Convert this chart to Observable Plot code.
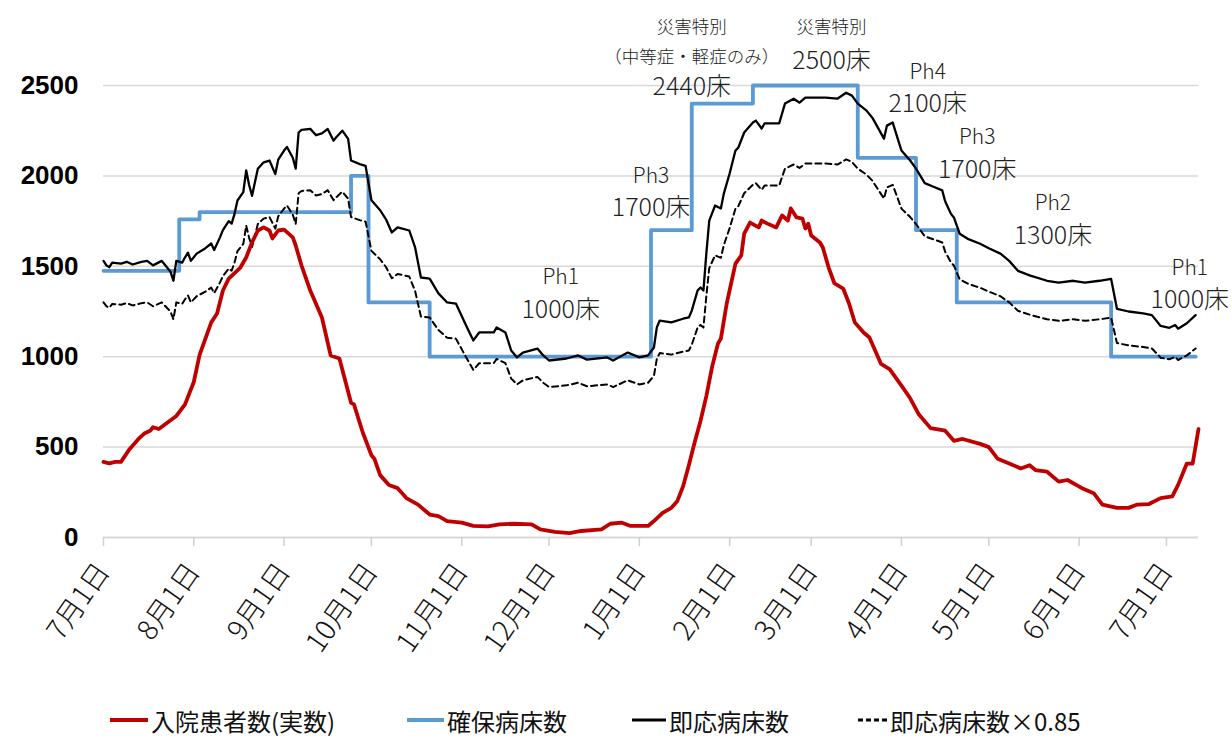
<!DOCTYPE html>
<html lang="ja">
<head>
<meta charset="utf-8">
<script src="https://cdn.jsdelivr.net/npm/d3@7"></script>
<script src="https://cdn.jsdelivr.net/npm/@observablehq/plot@0.6"></script>
<style>
  html, body { margin: 0; padding: 0; background: #fff; }
  #wrap { position: relative; width: 1232px; height: 740px; overflow: hidden; }
  #legend { position: absolute; left: 0; top: 697px; width: 1232px; height: 46px;
            font-family: "Noto Sans CJK JP", "Noto Sans", sans-serif; font-size: 24px; font-weight: 400; color: #111; }
  .item { position: absolute; top: 0; height: 46px; display: flex; align-items: center; white-space: nowrap; }
  .item svg { margin-right: 3px; }
</style>
</head>
<body>
<div id="wrap"><div id="chart"></div><div id="legend"></div></div>
<script>
// ---------- data ----------
const xDomain = ["2021-07-01", "2022-07-12"];
const xTicks = ["2021-07-01","2021-08-01","2021-09-01","2021-10-01","2021-11-01","2021-12-01",
                "2022-01-01","2022-02-01","2022-03-01","2022-04-01","2022-05-01","2022-06-01","2022-07-01"];
const xTickLabels = ["7月1日","8月1日","9月1日","10月1日","11月1日","12月1日",
                     "1月1日","2月1日","3月1日","4月1日","5月1日","6月1日","7月1日"];
const yTicks = [0, 500, 1000, 1500, 2000, 2500];

// 入院患者数(実数)
const patients = [
 ["2021-07-01",418],["2021-07-03",410],["2021-07-05",418],["2021-07-07",418],["2021-07-10",490],
 ["2021-07-13",545],["2021-07-15",575],["2021-07-17",590],["2021-07-18",610],["2021-07-20",600],
 ["2021-07-23",636],["2021-07-26",672],["2021-07-29",736],["2021-08-01",860],["2021-08-03",1010],
 ["2021-08-07",1190],["2021-08-09",1239],["2021-08-11",1366],["2021-08-13",1432],["2021-08-17",1493],
 ["2021-08-19",1549],["2021-08-21",1632],["2021-08-23",1698],["2021-08-25",1715],["2021-08-27",1698],
 ["2021-08-28",1654],["2021-08-30",1698],["2021-09-01",1703],["2021-09-04",1660],["2021-09-05",1615],
 ["2021-09-07",1504],["2021-09-10",1366],["2021-09-14",1217],["2021-09-17",1007],["2021-09-20",990],
 ["2021-09-22",868],["2021-09-24",745],["2021-09-25",736],["2021-09-28",582],["2021-10-01",455],
 ["2021-10-02",436],["2021-10-04",345],["2021-10-07",290],["2021-10-10",273],["2021-10-13",218],
 ["2021-10-17",182],["2021-10-21",127],["2021-10-24",118],["2021-10-27",91],["2021-11-01",82],
 ["2021-11-05",64],["2021-11-10",62],["2021-11-14",73],["2021-11-19",76],["2021-11-25",73],
 ["2021-11-28",45],["2021-12-03",31],["2021-12-08",24],["2021-12-12",36],["2021-12-19",45],
 ["2021-12-22",76],["2021-12-26",82],["2021-12-29",64],["2022-01-04",64],["2022-01-06",91],
 ["2022-01-09",136],["2022-01-12",164],["2022-01-14",200],["2022-01-16",282],["2022-01-18",400],
 ["2022-01-20",527],["2022-01-22",645],["2022-01-24",782],["2022-01-26",945],["2022-01-28",1073],
 ["2022-01-29",1100],["2022-01-31",1294],["2022-02-03",1515],["2022-02-05",1560],["2022-02-06",1681],
 ["2022-02-08",1742],["2022-02-11",1715],["2022-02-12",1753],["2022-02-14",1736],["2022-02-17",1715],
 ["2022-02-19",1781],["2022-02-21",1753],["2022-02-22",1820],["2022-02-24",1770],["2022-02-26",1764],
 ["2022-02-27",1709],["2022-02-28",1736],["2022-03-01",1670],["2022-03-04",1632],["2022-03-05",1604],
 ["2022-03-07",1493],["2022-03-09",1405],["2022-03-12",1377],["2022-03-14",1294],["2022-03-16",1189],
 ["2022-03-19",1134],["2022-03-21",1106],["2022-03-25",960],["2022-03-28",930],["2022-04-01",840],
 ["2022-04-04",770],["2022-04-07",680],["2022-04-11",605],["2022-04-16",591],["2022-04-19",535],
 ["2022-04-22",545],["2022-04-28",518],["2022-05-01",500],["2022-05-04",436],["2022-05-08",409],
 ["2022-05-12",382],["2022-05-15",400],["2022-05-17",373],["2022-05-21",364],["2022-05-25",309],
 ["2022-05-28",318],["2022-06-02",273],["2022-06-06",245],["2022-06-09",182],["2022-06-14",164],
 ["2022-06-18",164],["2022-06-21",182],["2022-06-25",185],["2022-06-29",218],["2022-07-03",227],
 ["2022-07-05",291],["2022-07-08",409],["2022-07-10",409],["2022-07-12",600]
];

// 確保病床数 (step changes)
const securedBeds = [
 ["2021-07-01",1475],["2021-07-27",1760],["2021-08-03",1800],["2021-09-24",2000],["2021-09-30",1300],
 ["2021-10-21",1000],["2022-01-05",1700],["2022-01-19",2400],["2022-02-09",2500],["2022-03-17",2100],
 ["2022-04-06",1700],["2022-04-20",1300],["2022-06-12",1000],["2022-07-11",1000]
];

// 即応病床数
const readyBeds = [
 ["2021-07-01",1530],["2021-07-02",1505],["2021-07-03",1495],["2021-07-04",1520],["2021-07-07",1515],
 ["2021-07-09",1525],["2021-07-11",1510],["2021-07-14",1525],["2021-07-16",1530],["2021-07-18",1505],
 ["2021-07-21",1530],["2021-07-22",1510],["2021-07-24",1470],["2021-07-25",1420],["2021-07-26",1530],
 ["2021-07-28",1520],["2021-07-29",1550],["2021-07-30",1575],["2021-07-31",1530],["2021-08-02",1570],
 ["2021-08-05",1600],["2021-08-07",1626],["2021-08-08",1590],["2021-08-10",1660],["2021-08-11",1700],
 ["2021-08-13",1750],["2021-08-14",1736],["2021-08-15",1790],["2021-08-16",1864],["2021-08-18",1910],
 ["2021-08-19",2030],["2021-08-20",1950],["2021-08-21",1890],["2021-08-23",2040],["2021-08-25",2075],
 ["2021-08-27",2085],["2021-08-29",2010],["2021-08-30",2090],["2021-09-01",2140],["2021-09-02",2160],
 ["2021-09-04",2100],["2021-09-05",2040],["2021-09-06",2240],["2021-09-07",2255],["2021-09-10",2260],
 ["2021-09-12",2225],["2021-09-14",2235],["2021-09-16",2260],["2021-09-18",2195],["2021-09-19",2215],
 ["2021-09-21",2250],["2021-09-23",2205],["2021-09-24",2085],["2021-09-27",2065],["2021-09-29",2055],
 ["2021-10-01",1865],["2021-10-04",1810],["2021-10-06",1760],["2021-10-08",1687],["2021-10-10",1715],
 ["2021-10-14",1698],["2021-10-16",1604],["2021-10-18",1438],["2021-10-21",1432],["2021-10-24",1350],
 ["2021-10-27",1300],["2021-10-30",1294],["2021-11-03",1156],["2021-11-05",1090],["2021-11-07",1134],
 ["2021-11-12",1134],["2021-11-13",1162],["2021-11-16",1134],["2021-11-18",1034],["2021-11-20",996],
 ["2021-11-22",1023],["2021-11-27",1045],["2021-11-29",1007],["2021-12-01",979],["2021-12-07",990],
 ["2021-12-11",1007],["2021-12-14",984],["2021-12-21",996],["2021-12-23",979],["2021-12-28",1023],
 ["2022-01-01",996],["2022-01-04",1007],["2022-01-06",1051],["2022-01-07",1162],["2022-01-08",1200],
 ["2022-01-12",1190],["2022-01-16",1210],["2022-01-18",1217],["2022-01-19",1255],["2022-01-21",1366],
 ["2022-01-22",1383],["2022-01-23",1366],["2022-01-24",1570],["2022-01-25",1753],["2022-01-27",1836],
 ["2022-01-29",1820],["2022-01-30",1902],["2022-02-01",2013],["2022-02-03",2140],["2022-02-04",2157],
 ["2022-02-06",2240],["2022-02-09",2295],["2022-02-10",2306],["2022-02-12",2262],["2022-02-13",2290],
 ["2022-02-18",2290],["2022-02-20",2400],["2022-02-23",2427],["2022-02-25",2405],["2022-02-27",2433],
 ["2022-03-06",2433],["2022-03-10",2427],["2022-03-13",2460],["2022-03-15",2444],["2022-03-17",2400],
 ["2022-03-20",2361],["2022-03-22",2322],["2022-03-26",2206],["2022-03-27",2278],["2022-03-29",2295],
 ["2022-04-01",2140],["2022-04-04",2085],["2022-04-06",2040],["2022-04-09",1960],["2022-04-12",1940],
 ["2022-04-15",1920],["2022-04-16",1860],["2022-04-18",1790],["2022-04-19",1770],["2022-04-21",1680],
 ["2022-04-24",1650],["2022-04-28",1625],["2022-05-01",1600],["2022-05-05",1570],["2022-05-08",1530],
 ["2022-05-11",1475],["2022-05-15",1450],["2022-05-21",1420],["2022-05-25",1410],["2022-05-30",1420],
 ["2022-06-03",1410],["2022-06-08",1420],["2022-06-12",1430],["2022-06-14",1265],["2022-06-18",1250],
 ["2022-06-23",1240],["2022-06-26",1230],["2022-06-29",1170],["2022-07-02",1160],["2022-07-04",1175],
 ["2022-07-05",1155],["2022-07-08",1185],["2022-07-11",1230]
];
const readyRatio = 0.85; // 即応病床数×0.85

// annotations: [text, date, value]
const phaseLabels = [
 ["Ph1","2021-12-05",1438],["Ph3","2022-01-05",1997],["Ph4","2022-04-10",2572],
 ["Ph3","2022-04-27",2212],["Ph2","2022-05-23",1847],["Ph1","2022-07-09",1488]
];
const bedLabels = [
 ["1000床","2021-12-05",1256],["1700床","2022-01-05",1820],["2440床","2022-01-19",2489],
 ["2500床","2022-03-08",2638],["2100床","2022-04-10",2400],["1700床","2022-04-27",2035],
 ["1300床","2022-05-23",1670],["1000床","2022-07-09",1311]
];
const noteLabels = [
 ["災害特別","2022-01-19",2821],["（中等症・軽症のみ）","2022-01-19",2655],["災害特別","2022-03-08",2821]
];

const seriesNames = ["入院患者数(実数)", "確保病床数", "即応病床数", "即応病床数×0.85"];

// ---------- build ----------
const parse = d3.utcParse("%Y-%m-%d");
const toRows = arr => arr.map(([d, v]) => ({date: parse(d), value: v}));
const patientRows = toRows(patients);
const securedRows = toRows(securedBeds);
const readyRows = toRows(readyBeds);
const ready85Rows = readyRows.map(r => ({date: r.date, value: r.value * readyRatio}));
const toLabelRows = arr => arr.map(([t, d, v]) => ({text: t, date: parse(d), value: v}));

const font = '"Noto Sans CJK JP", "Noto Sans", sans-serif';

const chart = Plot.plot({
  width: 1232,
  height: 697,
  marginTop: 85,
  marginBottom: 160,
  marginLeft: 103,
  marginRight: 34,
  style: {fontFamily: font, background: "#fff", overflow: "visible"},
  x: {type: "utc", domain: xDomain.map(parse)},
  y: {domain: [0, 2500]},
  marks: [
    Plot.gridY(yTicks.filter(t => t > 0), {stroke: "#d9d9d9", strokeOpacity: 1, strokeWidth: 1.5}),
    Plot.ruleY([0], {stroke: "#d9d9d9", strokeWidth: 2}),
    Plot.axisY({ticks: yTicks, tickSize: 0, tickPadding: 25, tickFormat: d => String(d),
                fontSize: 26, fontWeight: "bold", fontFamily: '"Liberation Sans", Arial, sans-serif',
                fill: "#000", label: null}),
    Plot.axisX({ticks: xTicks.map(parse), tickSize: 9, tickPadding: 20, stroke: "#d0d0d0", strokeWidth: 1.5,
                tickFormat: (d, i) => xTickLabels[i], tickRotate: -55, fontSize: 28, fontWeight: 300,
                fill: "#111", label: null}),
    Plot.line(securedRows, {x: "date", y: "value", curve: "step-after", stroke: "#5b9bd5", strokeWidth: 3.8}),
    Plot.line(readyRows, {x: "date", y: "value", stroke: "#000", strokeWidth: 2.3}),
    Plot.line(ready85Rows, {x: "date", y: "value", stroke: "#000", strokeWidth: 2, strokeDasharray: "6,4"}),
    Plot.line(patientRows, {x: "date", y: "value", stroke: "#c00000", strokeWidth: 3.8}),
    Plot.text(toLabelRows(phaseLabels), {x: "date", y: "value", text: "text", fontSize: 21, fontWeight: 300, fill: "#222", lineAnchor: "middle"}),
    Plot.text(toLabelRows(bedLabels), {x: "date", y: "value", text: "text", fontSize: 25, fontWeight: 300, fill: "#222", lineAnchor: "middle"}),
    Plot.text(toLabelRows(noteLabels), {x: "date", y: "value", text: "text", fontSize: 17.5, fontWeight: 300, fill: "#222", lineAnchor: "middle"})
  ]
});
document.getElementById("chart").appendChild(chart);

// ---------- legend ----------
const legendItems = [
  {name: seriesNames[0], color: "#c00000", width: 4, dash: null, left: 110, sw: 38},
  {name: seriesNames[1], color: "#5b9bd5", width: 4, dash: null, left: 407, sw: 37},
  {name: seriesNames[2], color: "#000", width: 3, dash: null, left: 632, sw: 34},
  {name: seriesNames[3], color: "#000", width: 3, dash: "5,3", left: 858, sw: 29}
];
const legend = document.getElementById("legend");
for (const it of legendItems) {
  const div = document.createElement("div");
  div.className = "item";
  div.style.left = it.left + "px";
  div.innerHTML = `<svg width="${it.sw}" height="10"><line x1="0" x2="${it.sw}" y1="5" y2="5" stroke="${it.color}" stroke-width="${it.width}" ${it.dash ? `stroke-dasharray="${it.dash}"` : ""}/></svg><span>${it.name}</span>`;
  legend.appendChild(div);
}
</script>
</body>
</html>
